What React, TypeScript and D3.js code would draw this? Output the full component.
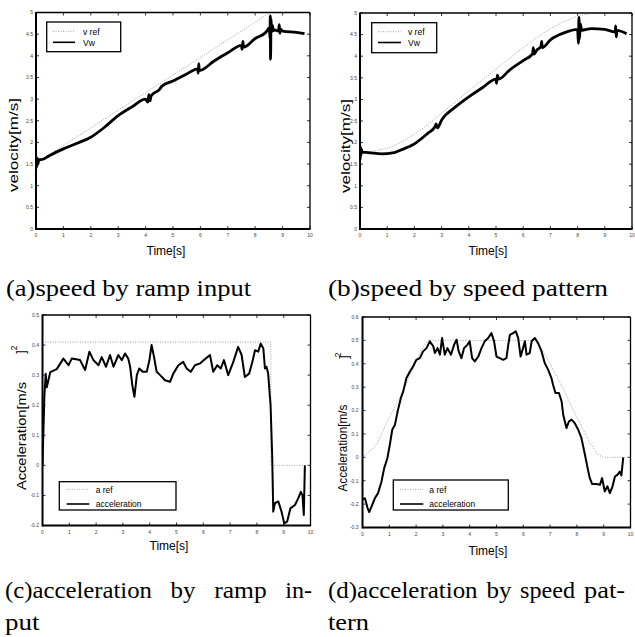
import React from 'react';
import * as d3 from 'd3';

type Pt = [number, number];

// ---------- tick values ----------
const timeTicks = [0, 1, 2, 3, 4, 5, 6, 7, 8, 9, 10];
const velocityTicks = [0, 0.5, 1, 1.5, 2, 2.5, 3, 3.5, 4, 4.5, 5];
const accelRampTicks = [-0.2, -0.1, 0, 0.1, 0.2, 0.3, 0.4, 0.5];
const accelPatternTicks = [-0.3, -0.2, -0.1, 0, 0.1, 0.2, 0.3, 0.4, 0.5, 0.6];

// ---------- (a) speed by ramp input ----------
const rampVref: Pt[] = [[0, 1.52], [8.55, 5.0], [10, 5.0]];
const rampVw: Pt[] = [
  [0, 1.62], [0.01, 1.4], [0.02, 1.66], [0.03, 1.45], [0.05, 1.63], [0.07, 1.5], [0.1, 1.6],
  [0.2, 1.6], [0.5, 1.7], [1.0, 1.85], [1.5, 1.98], [2.0, 2.12], [2.5, 2.35], [3.0, 2.62],
  [3.5, 2.82], [4.0, 3.0], [4.08, 2.93], [4.12, 3.1], [4.16, 2.96], [4.2, 3.07], [4.5, 3.22],
  [4.6, 3.3], [5.0, 3.42], [5.5, 3.58], [5.9, 3.7], [5.92, 3.6], [5.94, 3.82], [5.96, 3.66],
  [6.5, 3.88], [7.0, 4.07], [7.5, 4.24], [7.52, 4.15], [7.55, 4.33], [7.58, 4.2], [8.0, 4.4],
  [8.4, 4.55], [8.52, 4.65], [8.54, 4.4], [8.55, 4.92], [8.56, 3.92], [8.58, 4.85], [8.6, 4.55],
  [8.63, 4.7], [8.66, 4.58], [8.7, 4.6], [8.85, 4.57], [8.88, 4.72], [8.9, 4.52], [8.92, 4.62],
  [9.0, 4.57], [9.5, 4.54], [9.8, 4.51],
];

// ---------- (b) speed by speed pattern ----------
const patternVref: Pt[] = [
  [0, 1.79], [0.5, 1.8], [1, 1.87], [1.5, 2.0], [2, 2.19], [2.5, 2.42], [3, 2.68], [3.5, 2.93],
  [4, 3.2], [4.5, 3.45], [5, 3.7], [5.5, 3.95], [6, 4.2], [6.5, 4.43], [7, 4.64], [7.5, 4.8],
  [8, 4.93], [8.5, 4.99], [9, 5.0], [10, 5.0],
];
const patternVw: Pt[] = [
  [0, 1.8], [0.01, 1.6], [0.02, 1.9], [0.03, 1.7], [0.05, 1.85], [0.08, 1.78], [0.3, 1.77],
  [0.8, 1.74], [1.2, 1.76], [1.5, 1.83], [2, 1.97], [2.5, 2.22], [2.75, 2.36], [2.8, 2.43],
  [2.85, 2.34], [3, 2.52], [3.5, 2.82], [4, 3.06], [4.5, 3.27], [5, 3.47], [5.02, 3.37],
  [5.05, 3.56], [5.1, 3.47], [5.5, 3.68], [6, 3.9], [6.35, 4.06], [6.37, 4.2], [6.4, 4.05],
  [6.5, 4.14], [6.65, 4.22], [6.68, 4.34], [6.7, 4.2], [7, 4.38], [7.5, 4.54], [8, 4.62],
  [8.03, 4.3], [8.05, 4.9], [8.07, 4.4], [8.1, 4.75], [8.15, 4.6], [8.5, 4.64], [9, 4.62],
  [9.38, 4.56], [9.4, 4.7], [9.42, 4.45], [9.45, 4.6], [9.8, 4.52],
];

// ---------- (c) acceleration by ramp input ----------
const rampAref: Pt[] = [[0, 0.41], [8.52, 0.41], [8.52, 0], [9.8, 0]];
const rampAcc: Pt[] = [
  [0, 0], [0.07, 0.23], [0.12, 0.305], [0.16, 0.26], [0.29, 0.31], [0.53, 0.32], [0.78, 0.355],
  [0.97, 0.333], [1.09, 0.355], [1.4, 0.35], [1.59, 0.317], [1.75, 0.378], [1.9, 0.35],
  [2.09, 0.333], [2.21, 0.36], [2.37, 0.328], [2.52, 0.367], [2.65, 0.328], [2.83, 0.367],
  [2.96, 0.35], [3.08, 0.372], [3.2, 0.355], [3.27, 0.328], [3.35, 0.267], [3.43, 0.228],
  [3.52, 0.3], [3.61, 0.322], [3.74, 0.311], [3.89, 0.311], [3.99, 0.35], [4.07, 0.4],
  [4.16, 0.361], [4.26, 0.311], [4.39, 0.3], [4.57, 0.283], [4.76, 0.278], [4.88, 0.305],
  [5.07, 0.333], [5.25, 0.344], [5.38, 0.322], [5.53, 0.311], [5.69, 0.333], [5.88, 0.339],
  [6.02, 0.35], [6.25, 0.367], [6.37, 0.311], [6.52, 0.333], [6.65, 0.322], [6.77, 0.35],
  [6.93, 0.3], [7.12, 0.344], [7.3, 0.394], [7.43, 0.367], [7.55, 0.294], [7.71, 0.305],
  [7.83, 0.344], [7.93, 0.383], [8.05, 0.378], [8.14, 0.405], [8.24, 0.389], [8.3, 0.322],
  [8.36, 0.328], [8.42, 0.305], [8.51, 0.2], [8.57, 0.034], [8.61, -0.154], [8.67, -0.126],
  [8.8, -0.12], [8.92, -0.154], [9.02, -0.193], [9.13, -0.187], [9.25, -0.143], [9.42, -0.132],
  [9.54, -0.11], [9.64, -0.088], [9.7, -0.099], [9.75, -0.165], [9.79, 0],
];

// ---------- (d) acceleration by speed pattern ----------
const patternAref: Pt[] = [
  [0, 0], [0.5, 0.05], [1, 0.17], [1.5, 0.28], [2, 0.41], [2.2, 0.46], [2.45, 0.5], [6.4, 0.5],
  [6.7, 0.46], [7, 0.4], [7.5, 0.29], [8, 0.17], [8.5, 0.06], [8.8, 0.01], [9, 0], [9.8, 0],
];
const patternAcc: Pt[] = [
  [0, -0.18], [0.09, -0.175], [0.19, -0.217], [0.25, -0.234], [0.34, -0.21], [0.46, -0.175],
  [0.58, -0.153], [0.71, -0.103], [0.81, -0.046], [0.93, -0.003], [1.02, 0.054], [1.11, 0.118],
  [1.21, 0.139], [1.31, 0.196], [1.43, 0.253], [1.52, 0.282], [1.64, 0.339], [1.77, 0.367],
  [1.89, 0.389], [2.01, 0.417], [2.14, 0.424], [2.26, 0.453], [2.39, 0.467], [2.51, 0.496],
  [2.64, 0.475], [2.7, 0.446], [2.8, 0.467], [2.89, 0.439], [2.97, 0.51], [3.07, 0.439],
  [3.17, 0.467], [3.3, 0.439], [3.42, 0.482], [3.51, 0.503], [3.59, 0.453], [3.69, 0.424],
  [3.79, 0.467], [3.92, 0.482], [4.0, 0.496], [4.09, 0.424], [4.19, 0.41], [4.32, 0.431],
  [4.44, 0.467], [4.56, 0.496], [4.69, 0.51], [4.81, 0.531], [4.91, 0.496], [5.0, 0.431],
  [5.12, 0.424], [5.25, 0.417], [5.37, 0.424], [5.44, 0.482], [5.5, 0.524], [5.62, 0.531],
  [5.72, 0.539], [5.81, 0.51], [5.9, 0.431], [5.99, 0.467], [6.06, 0.496], [6.12, 0.439],
  [6.24, 0.446], [6.31, 0.496], [6.43, 0.51], [6.55, 0.489], [6.68, 0.453], [6.8, 0.403],
  [6.93, 0.374], [7.05, 0.339], [7.11, 0.31], [7.2, 0.275], [7.33, 0.275], [7.43, 0.239],
  [7.49, 0.182], [7.55, 0.153], [7.61, 0.125], [7.7, 0.153], [7.8, 0.161], [7.92, 0.146],
  [8.05, 0.118], [8.17, 0.082], [8.3, 0.011], [8.4, -0.046], [8.48, -0.089], [8.57, -0.114],
  [8.73, -0.114], [8.86, -0.117], [8.94, -0.089], [9.04, -0.146], [9.14, -0.124], [9.23, -0.153],
  [9.33, -0.124], [9.42, -0.082], [9.51, -0.075], [9.6, -0.061], [9.66, -0.077], [9.73, 0],
];

const SANS = "'Liberation Sans', Arial, Helvetica, sans-serif";
const SERIF = "'Liberation Serif', 'Times New Roman', serif";

const fmt = (v: number) => String(Math.round(v * 10) / 10);

interface Frame { left: number; right: number; top: number; bottom: number; }
interface LegendSpec {
  x0: number; x1: number; y0: number; y1: number;
  lx0: number; lx1: number; ly1: number; ly2: number; tx: number;
  labels: [string, string]; fontSize: number;
}
interface YLabelSpec {
  x: number; cy: number; len: number; text: string; size: number;
  sup?: { two: [number, number]; bracket: [number, number] };
}

function Panel(props: {
  frame: Frame; yDomain: [number, number]; yTicks: number[];
  ref: Pt[]; meas: Pt[]; measWidth: number; smooth: boolean; legend: LegendSpec;
  xLabel: { cx: number; y: number }; yLabel: YLabelSpec;
  xTickY: number; yTickGap: number;
}) {
  const { frame, yDomain, yTicks, ref, meas, measWidth, smooth, legend, xLabel, yLabel, xTickY, yTickGap } = props;
  const x = d3.scaleLinear().domain([0, 10]).range([frame.left, frame.right]);
  const y = d3.scaleLinear().domain(yDomain).range([frame.bottom, frame.top]);
  const line = d3.line<Pt>().x(d => x(d[0])).y(d => y(d[1]));
  const measLine = d3.line<Pt>().x(d => x(d[0])).y(d => y(d[1]))
    .curve(smooth ? d3.curveMonotoneX : d3.curveLinear);
  const tl = 3;
  const clipId = `clip-${Math.round(frame.left)}-${Math.round(frame.top)}`;
  return (
    <g>
      <defs>
        <clipPath id={clipId}>
          <rect x={frame.left} y={frame.top - 1} width={frame.right - frame.left} height={frame.bottom - frame.top + 2} />
        </clipPath>
      </defs>
      {/* ticks */}
      {timeTicks.map(t => (
        <g key={`xt${t}`}>
          <line x1={x(t)} x2={x(t)} y1={frame.bottom} y2={frame.bottom - tl} stroke="#000" strokeWidth={0.8} />
          <line x1={x(t)} x2={x(t)} y1={frame.top} y2={frame.top + tl} stroke="#000" strokeWidth={0.8} />
          <text x={x(t)} y={xTickY} fontSize={5} fontFamily={SANS} fill="#444" textAnchor="middle">{fmt(t)}</text>
        </g>
      ))}
      {yTicks.map(v => (
        <g key={`yt${v}`}>
          <line x1={frame.left} x2={frame.left + tl} y1={y(v)} y2={y(v)} stroke="#000" strokeWidth={0.8} />
          <line x1={frame.right} x2={frame.right - tl} y1={y(v)} y2={y(v)} stroke="#000" strokeWidth={0.8} />
          <text x={frame.left - yTickGap} y={y(v) + 1.8} fontSize={5} fontFamily={SANS} fill="#444" textAnchor="end">{fmt(v)}</text>
        </g>
      ))}
      {/* data */}
      <g clipPath={`url(#${clipId})`}>
        <path d={line(ref) || ''} fill="none" stroke="#999" strokeWidth={0.9} strokeDasharray="1 1.5" />
        <path d={measLine(meas) || ''} fill="none" stroke="#000" strokeWidth={measWidth} strokeLinejoin="round" />
      </g>
      {/* box */}
      <line x1={frame.left} x2={frame.right} y1={frame.top} y2={frame.top} stroke="#000" strokeWidth={1.3} />
      <line x1={frame.right} x2={frame.right} y1={frame.top} y2={frame.bottom} stroke="#000" strokeWidth={1.3} />
      <line x1={frame.left} x2={frame.right + 0.6} y1={frame.bottom} y2={frame.bottom} stroke="#000" strokeWidth={2} />
      <line x1={frame.left} x2={frame.left} y1={frame.top - 0.6} y2={frame.bottom + 1} stroke="#000" strokeWidth={2} />
      {/* legend */}
      <rect x={legend.x0} y={legend.y0} width={legend.x1 - legend.x0} height={legend.y1 - legend.y0} fill="#fff" stroke="#000" strokeWidth={1.3} />
      <line x1={legend.lx0} x2={legend.lx1} y1={legend.ly1} y2={legend.ly1} stroke="#999" strokeWidth={0.9} strokeDasharray="1 1.5" />
      <line x1={legend.lx0} x2={legend.lx1} y1={legend.ly2} y2={legend.ly2} stroke="#000" strokeWidth={1.6} />
      <text x={legend.tx} y={legend.ly1 + 3.2} fontSize={legend.fontSize} fontFamily={SANS} fill="#000">{legend.labels[0]}</text>
      <text x={legend.tx} y={legend.ly2 + 3.2} fontSize={legend.fontSize} fontFamily={SANS} fill="#000">{legend.labels[1]}</text>
      {/* axis labels */}
      <text x={xLabel.cx} y={xLabel.y} fontSize={12} fontFamily={SANS} textAnchor="middle" fill="#000">Time[s]</text>
      <text transform={`translate(${yLabel.x},${yLabel.cy}) rotate(-90)`} fontSize={yLabel.size} fontFamily={SANS}
        textAnchor="middle" textLength={yLabel.len} lengthAdjust="spacingAndGlyphs" fill="#000">{yLabel.text}</text>
      {yLabel.sup && (
        <>
          <text transform={`translate(${yLabel.sup.two[0]},${yLabel.sup.two[1]}) rotate(-90)`} fontSize={8.5}
            fontFamily={SANS} textAnchor="middle" fill="#000">2</text>
          <text transform={`translate(${yLabel.sup.bracket[0]},${yLabel.sup.bracket[1]}) rotate(-90)`} fontSize={12}
            fontFamily={SANS} textAnchor="middle" fill="#000">]</text>
        </>
      )}
    </g>
  );
}

function Word(p: { x: number; y: number; len: number; children: string }) {
  return (
    <text x={p.x} y={p.y} fontSize={23} fontFamily={SERIF} fill="#000" textLength={p.len}
      lengthAdjust="spacingAndGlyphs">{p.children}</text>
  );
}

export default function App() {
  return (
    <svg width={635} height={637} style={{ position: 'absolute', left: 0, top: 0, background: '#fff' }}>
      <rect x={0} y={0} width={635} height={637} fill="#fff" />
      <Panel
        frame={{ left: 36, right: 310, top: 12.5, bottom: 229 }}
        yDomain={[0, 5]} yTicks={velocityTicks} ref={rampVref} meas={rampVw} measWidth={2.8} smooth={true}
        legend={{ x0: 46.7, x1: 120.7, y0: 22, y1: 51.7, lx0: 53, lx1: 75, ly1: 31.3, ly2: 42.3, tx: 83, labels: ['v ref', 'Vw'], fontSize: 8.5 }}
        xLabel={{ cx: 166, y: 255 }}
        yLabel={{ x: 18, cy: 145, len: 94, text: 'velocity[m/s]', size: 13 }}
        xTickY={237} yTickGap={3}
      />
      <Panel
        frame={{ left: 360, right: 632, top: 13, bottom: 229 }}
        yDomain={[0, 5]} yTicks={velocityTicks} ref={patternVref} meas={patternVw} measWidth={2.8} smooth={true}
        legend={{ x0: 371.7, x1: 436.7, y0: 22.7, y1: 52.7, lx0: 378, lx1: 401, ly1: 31.7, ly2: 42.5, tx: 408, labels: ['v ref', 'Vw'], fontSize: 8.5 }}
        xLabel={{ cx: 488, y: 255 }}
        yLabel={{ x: 350, cy: 146, len: 94, text: 'velocity[m/s]', size: 13 }}
        xTickY={237} yTickGap={3}
      />
      <Panel
        frame={{ left: 42.5, right: 310.5, top: 315, bottom: 525.5 }}
        yDomain={[-0.2, 0.5]} yTicks={accelRampTicks} ref={rampAref} meas={rampAcc} measWidth={2} smooth={false}
        legend={{ x0: 59.3, x1: 176, y0: 481.7, y1: 510, lx0: 66.7, lx1: 89.3, ly1: 489.3, ly2: 504, tx: 95.7, labels: ['a ref', 'acceleration'], fontSize: 8.5 }}
        xLabel={{ cx: 169, y: 550 }}
        yLabel={{ x: 26, cy: 436, len: 108, text: 'Acceleration[m/s', size: 13, sup: { two: [17, 348], bracket: [25, 352] } }}
        xTickY={534} yTickGap={3.5}
      />
      <Panel
        frame={{ left: 362.5, right: 630.5, top: 317, bottom: 527.5 }}
        yDomain={[-0.3, 0.6]} yTicks={accelPatternTicks} ref={patternAref} meas={patternAcc} measWidth={2} smooth={false}
        legend={{ x0: 393.3, x1: 508.3, y0: 480, y1: 510, lx0: 400, lx1: 423.3, ly1: 489.3, ly2: 504, tx: 429.3, labels: ['a ref', 'acceleration'], fontSize: 8.5 }}
        xLabel={{ cx: 488, y: 555 }}
        yLabel={{ x: 347, cy: 448, len: 87, text: 'Acceleration[m/s', size: 12.5, sup: { two: [341, 355], bracket: [348, 357] } }}
        xTickY={536} yTickGap={4}
      />
      {/* captions */}
      <Word x={6} y={296} len={245}>(a)speed by ramp input</Word>
      <Word x={328} y={296} len={280}>(b)speed by speed pattern</Word>
      <Word x={5} y={598} len={147}>(c)acceleration</Word>
      <Word x={170.6} y={598} len={25}>by</Word>
      <Word x={214.2} y={598} len={52.5}>ramp</Word>
      <Word x={285.3} y={598} len={26.8}>in-</Word>
      <Word x={5} y={630} len={34.5}>put</Word>
      <Word x={328} y={598} len={149.6}>(d)acceleration</Word>
      <Word x={486.4} y={598} len={25}>by</Word>
      <Word x={520} y={598} len={55}>speed</Word>
      <Word x={584} y={598} len={41}>pat-</Word>
      <Word x={328} y={630} len={41}>tern</Word>
    </svg>
  );
}
